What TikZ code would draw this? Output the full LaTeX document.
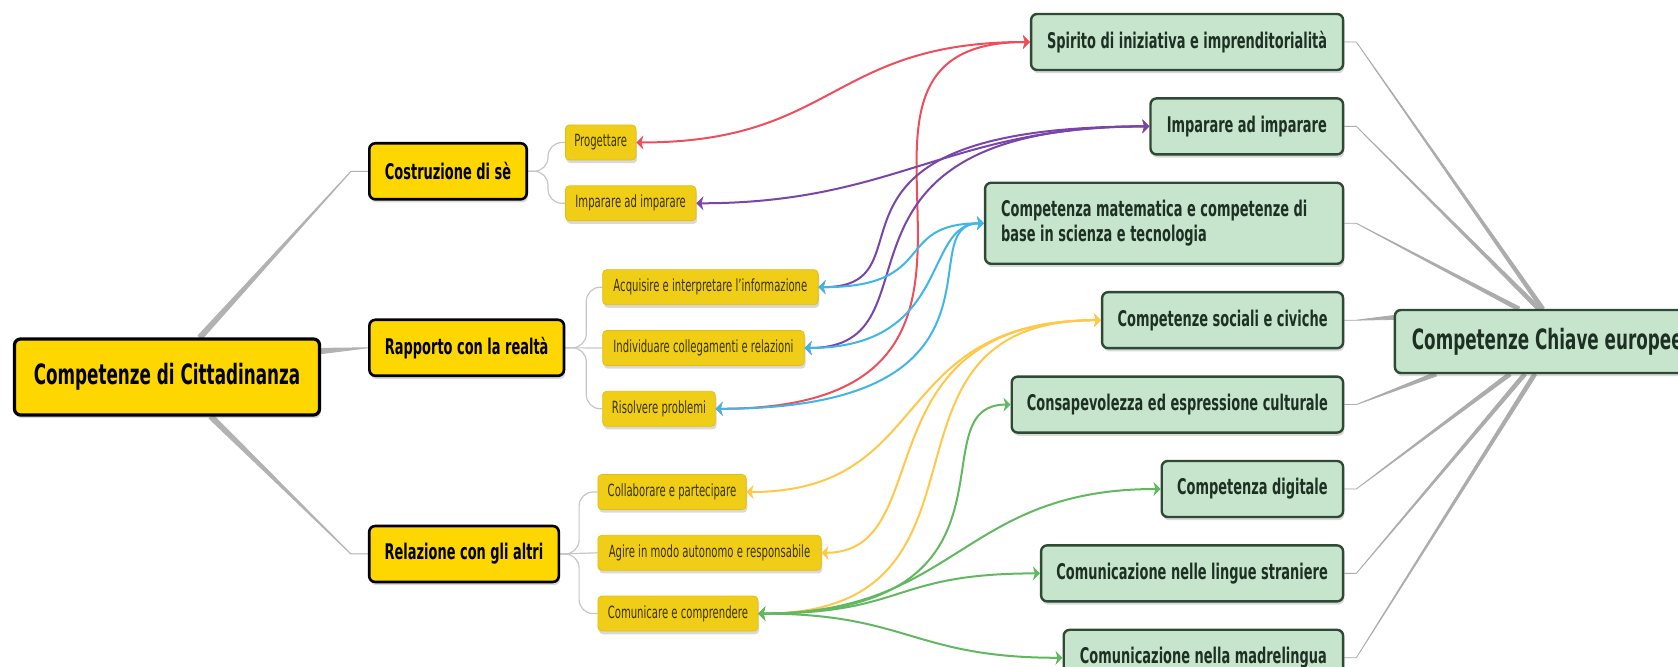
\documentclass[tikz,border=0pt]{standalone}
\usepackage{fontspec}
\setmainfont{DejaVu Sans}[FakeStretch=0.6]
\usepackage{xcolor}
\usepackage{tikz}
\usetikzlibrary{shapes,arrows.meta,positioning,shadows,calc,backgrounds}
\definecolor{gold}{HTML}{FFD700}
\definecolor{subgold}{HTML}{F0CE17}
\definecolor{subline}{HTML}{E2BE10}
\definecolor{subtext}{HTML}{3A3200}
\definecolor{mint}{HTML}{C6E5CC}
\definecolor{mintline}{HTML}{2E4A35}
\definecolor{minttext}{HTML}{1E3024}
\definecolor{lred}{HTML}{EE4D5C}
\definecolor{lpurple}{HTML}{7A45A8}
\definecolor{lblue}{HTML}{41B4E8}
\definecolor{lyellow}{HTML}{FFC84A}
\definecolor{lgreen}{HTML}{62B860}
\tikzset{
    boxshadow/.style={drop shadow={shadow xshift=0.6pt, shadow yshift=-1.6pt, opacity=0.3}},
    taper/.style={to path={-- ($(\tikztotarget)!#1!90:(\tikztostart)$)
        -- ($(\tikztotarget)!#1!-90:(\tikztostart)$) -- (\tikztostart)}}
}
\tikzstyle{rootbox} = [rectangle, draw=black, line width=1.6pt, fill=gold, rounded corners=3pt,
    minimum width=152.5pt, minimum height=38pt, font=\fontsize{14}{16}\selectfont\bfseries, boxshadow]
\tikzstyle{topicbox} = [rectangle, draw=black, line width=1.3pt, fill=gold, rounded corners=3pt,
    minimum height=28pt, font=\fontsize{10.8}{13}\selectfont\bfseries, boxshadow]
\tikzstyle{leafbox} = [rectangle, draw=subline, line width=0.4pt, fill=subgold, rounded corners=2pt,
    minimum height=17.5pt, text=subtext, font=\fontsize{8.4}{10}\selectfont, boxshadow]
\tikzstyle{keybox} = [rectangle, draw=mintline, line width=1.2pt, fill=mint, rounded corners=3pt,
    minimum height=28pt, text=minttext, font=\fontsize{10.8}{12.5}\selectfont\bfseries, boxshadow]
\tikzstyle{branch} = [fill=gray!60, draw=gray!60, line width=0.5pt, line join=round, taper=1.3pt]
\tikzstyle{fork} = [draw, gray!45, line width=0.6pt, rounded corners=7pt]
\tikzstyle{spoke} = [fill=gray!65, draw=gray!65, line width=0.4pt, line join=round, taper=1pt]
\tikzstyle{link} = [draw, line width=1pt, >={Stealth[length=3.5pt,width=7pt,inset=1pt]}, <->]

\begin{document}
\begin{tikzpicture}[x=0.5pt,y=-0.5pt]
    \useasboundingbox (0,0) rectangle (1678,667);

    % Cittadinanza side
    \node [rootbox] (cittadinanza) at (167,377) {Competenze di Cittadinanza};
    \node [topicbox, minimum width=78.7pt] (costruzione) at (448,171.3) {Costruzione di sè};
    \node [topicbox, minimum width=97.3pt] (rapporto) at (466.7,347.8) {Rapporto con la realtà};
    \node [topicbox, minimum width=94.8pt] (relazione) at (464,554) {Relazione con gli altri};

    % Leaves
    \node [leafbox, anchor=west, minimum width=35.3pt] (progettare) at (565,142.5) {Progettare};
    \node [leafbox, minimum width=65.3pt] (imparare) [below=12.5pt of progettare.south west, anchor=north west] {Imparare ad imparare};
    \node [leafbox, anchor=west, minimum width=107.7pt] (acquisire) at (602.3,287.2) {Acquisire e interpretare l'informazione};
    \node [leafbox, minimum width=100.8pt] (individuare) [below=12.5pt of acquisire.south west, anchor=north west] {Individuare collegamenti e relazioni};
    \node [leafbox, minimum width=56.3pt] (risolvere) [below=12.5pt of individuare.south west, anchor=north west] {Risolvere problemi};
    \node [leafbox, anchor=west, minimum width=74.1pt] (collaborare) at (597.5,492) {Collaborare e partecipare};
    \node [leafbox, minimum width=111.6pt] (agire) [below=12.5pt of collaborare.south west, anchor=north west] {Agire in modo autonomo e responsabile};
    \node [leafbox, minimum width=80pt] (comunicare) [below=12.5pt of agire.south west, anchor=north west] {Comunicare e comprendere};

    % Chiave europee side
    \node [keybox, anchor=east, minimum width=156pt] (spirito) at (1344.3,42) {Spirito di iniziativa e imprenditorialità};
    \node [keybox, minimum width=96.3pt] (imparareK) [below=13pt of spirito.south east, anchor=north east] {Imparare ad imparare};
    \node [keybox, text width=163pt, align=flush left, inner xsep=8pt, minimum height=40.5pt] (matematica) [below=13pt of imparareK.south east, anchor=north east] {Competenza matematica e competenze di\\base in scienza e tecnologia};
    \node [keybox, minimum width=120.5pt] (sociali) [below=13pt of matematica.south east, anchor=north east] {Competenze sociali e civiche};
    \node [keybox, minimum width=165.7pt] (consapevolezza) [below=13pt of sociali.south east, anchor=north east] {Consapevolezza ed espressione culturale};
    \node [keybox, minimum width=90.7pt] (digitale) [below=13pt of consapevolezza.south east, anchor=north east] {Competenza digitale};
    \node [keybox, minimum width=151pt] (lingue) [below=13pt of digitale.south east, anchor=north east] {Comunicazione nelle lingue straniere};
    \node [keybox, minimum width=139.7pt] (madrelingua) [below=13pt of lingue.south east, anchor=north east] {Comunicazione nella madrelingua};
    \node [keybox, anchor=west, inner xsep=8.5pt, minimum height=31.5pt, font=\fontsize{14}{16}\selectfont\bfseries] (chiave) at (1393.7,341.5) {Competenze Chiave europee};

    \begin{scope}[on background layer]
        % Branches
        \filldraw [branch] (costruzione.west) -- ++(-17,0) to ([xshift=16.5pt]cittadinanza.north);
        \filldraw [branch] (rapporto.west) to ([yshift=13pt]cittadinanza.east);
        \filldraw [branch] (relazione.west) -- ++(-17,0) to ([xshift=22pt]cittadinanza.south);
        \draw [fork] (costruzione.east) -- ++(20,0) |- (progettare.west);
        \draw [fork] (costruzione.east) -- ++(20,0) |- (imparare.west);
        \draw [fork] (rapporto.east) -- ++(21,0) |- (acquisire.west);
        \draw [fork] (rapporto.east) -- (individuare.west);
        \draw [fork] (rapporto.east) -- ++(21,0) |- (risolvere.west);
        \draw [fork] (relazione.east) -- ++(19,0) |- (collaborare.west);
        \draw [fork] (relazione.east) -- (agire.west);
        \draw [fork] (relazione.east) -- ++(19,0) |- (comunicare.west);

        % Spokes
        \filldraw [spoke] (spirito.east) -- ++(12,0) to ([xshift=74.5pt]chiave.north west);
        \filldraw [spoke] (imparareK.east) -- ++(12,0) to ([xshift=72.5pt]chiave.north west);
        \filldraw [spoke] (matematica.east) -- ++(12,0) to ([xshift=62.5pt]chiave.north west);
        \filldraw [spoke] (sociali.east) -- ++(12,0) to ([yshift=12pt]chiave.west);
        \filldraw [spoke] (consapevolezza.east) -- ++(12,0) to ([xshift=21pt]chiave.south west);
        \filldraw [spoke] (digitale.east) -- ++(12,0) to ([xshift=58pt]chiave.south west);
        \filldraw [spoke] (lingue.east) -- ++(12,0) to ([xshift=65.5pt]chiave.south west);
        \filldraw [spoke] (madrelingua.east) -- ++(12,0) to ([xshift=70.5pt]chiave.south west);
    \end{scope}

    % Links
    \draw [link, lred] (progettare.east) .. controls +(200,0) and +(-200,0) .. (spirito.west);
    \draw [link, lred] (risolvere.east) .. controls +(374,0) and +(-254,0) .. (spirito.west);
    \draw [link, lpurple] (imparare.east) .. controls +(200,0) and +(-200,0) .. (imparareK.west);
    \draw [link, lpurple] (acquisire.east) .. controls +(123,0) and +(-367,0) .. (imparareK.west);
    \draw [link, lpurple] (individuare.east) .. controls +(146,0) and +(-353,0) .. (imparareK.west);
    \draw [link, lblue] (acquisire.east) .. controls +(121,0) and +(-92,0) .. (matematica.west);
    \draw [link, lblue] (individuare.east) .. controls +(148,0) and +(-62,0) .. (matematica.west);
    \draw [link, lblue] (risolvere.east) .. controls +(315,0) and +(-76,0) .. (matematica.west);
    \draw [link, lyellow] (collaborare.east) .. controls +(190,0) and +(-215,0) .. (sociali.west);
    \draw [link, lyellow] (agire.east) .. controls +(120,0) and +(-245,0) .. (sociali.west);
    \draw [link, lyellow] (comunicare.east) .. controls +(262,0) and +(-250,0) .. (sociali.west);
    \draw [link, lgreen] (comunicare.east) .. controls +(284,0) and +(-97,0) .. (consapevolezza.west);
    \draw [link, lgreen] (comunicare.east) .. controls +(200,0) and +(-200,0) .. (digitale.west);
    \draw [link, lgreen] (comunicare.east) .. controls +(150,0) and +(-150,0) .. (lingue.west);
    \draw [link, lgreen] (comunicare.east) .. controls +(150,0) and +(-150,0) .. (madrelingua.west);
\end{tikzpicture}
\end{document}
